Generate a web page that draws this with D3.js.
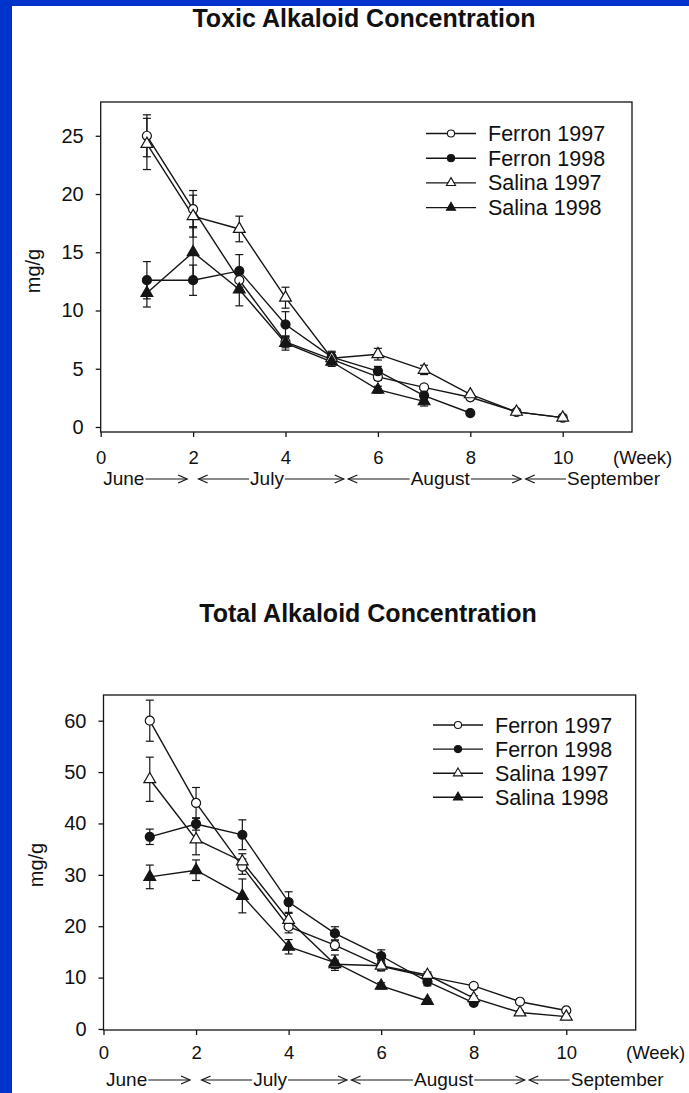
<!DOCTYPE html>
<html>
<head>
<meta charset="utf-8">
<script src="https://cdnjs.cloudflare.com/ajax/libs/d3/7.8.5/d3.min.js"></script>
<style>
html, body { margin: 0; padding: 0; background: #fff; }
svg { display: block; }
text { font-family: "Liberation Sans", Arial, sans-serif; fill: #111; }
</style>
</head>
<body>
<svg id="chart" width="689" height="1093"></svg>
<script>
// data (week number -> mg/g, with error bars)
const weeks = [1, 2, 3, 4, 5, 6, 7, 8, 9, 10];
const seriesNames = ["Ferron 1997", "Ferron 1998", "Salina 1997", "Salina 1998"];
const xTicks = [0, 2, 4, 6, 8, 10];

const toxicFerron97 = [25.0, 18.7, 12.6, 7.3, 5.8, 4.3, 3.4, 2.55, 1.3, 0.8];
const toxicFerron97Err = [1.8, 1.6, 0.9, 0.5, 0.4, 0.3, 0.2, 0.2, 0.1, 0.1];
const toxicFerron98 = [12.6, 12.6, 13.4, 8.8, 6.0, 4.8, 2.7, 1.2];
const toxicFerron98Err = [1.6, 1.3, 1.4, 1.1, 0.5, 0.4, 0.3, 0.1];
const toxicSalina97 = [24.3, 18.1, 17.0, 11.1, 5.9, 6.25, 4.9, 2.8, 1.3, 0.8];
const toxicSalina97Err = [2.2, 1.8, 1.1, 0.9, 0.5, 0.5, 0.4, 0.2, 0.1, 0.1];
const toxicSalina98 = [11.5, 15.0, 11.8, 7.2, 5.6, 3.2, 2.2];
const toxicSalina98Err = [1.2, 2.2, 1.4, 0.6, 0.4, 0.3, 0.4];
const toxicYTicks = [0, 5, 10, 15, 20, 25];

const totalFerron97 = [60.0, 44.0, 31.6, 19.9, 16.3, 12.2, 10.2, 8.4, 5.3, 3.6];
const totalFerron97Err = [4.0, 3.0, 1.5, 1.2, 1.0, 0.8, 0.6, 0.4, 0.3, 0.3];
const totalFerron98 = [37.4, 39.9, 37.8, 24.7, 18.6, 14.2, 9.2, 5.1];
const totalFerron98Err = [1.5, 1.2, 2.9, 2.0, 1.3, 1.2, 0.8, 0.5];
const totalSalina97 = [48.6, 36.9, 32.6, 21.2, 12.6, 12.3, 10.5, 6.0, 3.2, 2.4];
const totalSalina97Err = [4.3, 3.0, 1.5, 1.3, 0.8, 1.0, 0.6, 0.5, 0.3, 0.2];
const totalSalina98 = [29.6, 30.9, 25.9, 16.0, 12.9, 8.4, 5.45];
const totalSalina98Err = [2.3, 2.0, 3.3, 1.4, 1.5, 0.6, 0.4];
const totalYTicks = [0, 10, 20, 30, 40, 50, 60];

// month annotation under the week axis (in weeks)
const months = ["June", "July", "August", "September"];
const monthSpans = [[0, 1.87], [2.12, 5.26], [5.36, 9.1], [9.2, 11.5]];
const monthLabelAt = [0.5, 3.6, 7.35, 11.1];

const ink = "#151515";
const svg = d3.select("#chart");

// blue slide border (left and top)
svg.append("rect").attr("width", 689).attr("height", 1093).attr("fill", "#0033cc");
svg.append("rect").attr("x", 12).attr("y", 6).attr("width", 677).attr("height", 1087).attr("fill", "#fff");

const markerShape = [d3.symbolCircle, d3.symbolCircle, d3.symbolTriangle, d3.symbolTriangle];
const markerFill = ["#fff", ink, "#fff", ink];

function pack(vals, errs) {
  return vals.map((v, i) => ({ w: weeks[i], v: v, e: errs[i] }));
}

function drawPanel(p) {
  const g = svg.append("g");
  const x = d3.scaleLinear().domain([0, 11.5]).range([p.left, p.right]);
  const y = d3.scaleLinear().domain(p.yDomain).range([p.bottom, p.top]);

  g.append("text")
    .attr("x", p.titleX).attr("y", p.titleY)
    .attr("text-anchor", "middle")
    .style("font-size", "25px").style("font-weight", "bold")
    .text(p.title);

  // frame
  g.append("rect")
    .attr("x", p.left).attr("y", p.top)
    .attr("width", p.right - p.left).attr("height", p.bottom - p.top)
    .attr("fill", "none").attr("stroke", ink).attr("stroke-width", 1.3);

  const yAxis = g.append("g")
    .attr("transform", `translate(${p.left},0)`)
    .call(d3.axisLeft(y).tickValues(p.yTicks).tickSize(5).tickPadding(12));
  const xAxis = g.append("g")
    .attr("transform", `translate(0,${p.bottom})`)
    .call(d3.axisBottom(x).tickValues(xTicks).tickSize(5).tickPadding(p.xPad));
  [yAxis, xAxis].forEach(a => {
    a.select(".domain").remove();
    a.selectAll("line").attr("stroke", ink).attr("stroke-width", 1.3);
    a.selectAll("text").attr("fill", ink)
      .style("font-family", '"Liberation Sans", Arial, sans-serif');
  });
  yAxis.selectAll("text").style("font-size", "20px");
  xAxis.selectAll("text").style("font-size", "18.5px");

  g.append("text")
    .attr("x", p.weekX).attr("y", p.bottom + p.xPad + 5)
    .attr("dy", "0.71em")
    .style("font-size", "18.5px")
    .text("(Week)");

  g.append("text")
    .attr("transform", `translate(${p.ylabX},${p.ylabY}) rotate(-90)`)
    .attr("text-anchor", "middle")
    .style("font-size", "20px")
    .text("mg/g");

  // month row with arrows
  const mRow = g.append("g");
  const arrowY = p.monthY - 6;
  months.forEach((m, i) => {
    const t = mRow.append("text")
      .attr("x", x(monthLabelAt[i])).attr("y", p.monthY)
      .attr("text-anchor", "middle")
      .style("font-size", "19px")
      .text(m);
    const w = t.node().getComputedTextLength();
    const tl = x(monthLabelAt[i]) - w / 2 - 1, tr = x(monthLabelAt[i]) + w / 2 + 1;
    const s = x(monthSpans[i][0]), e = x(monthSpans[i][1]);
    if (i > 0) {
      mRow.append("line").attr("x1", s).attr("x2", tl).attr("y1", arrowY).attr("y2", arrowY)
        .attr("stroke", ink).attr("stroke-width", 1);
      mRow.append("path").attr("d", `M${s + 9},${arrowY - 4}L${s},${arrowY}L${s + 9},${arrowY + 4}`)
        .attr("fill", "none").attr("stroke", ink).attr("stroke-width", 1.2);
    }
    if (i < months.length - 1) {
      mRow.append("line").attr("x1", tr).attr("x2", e).attr("y1", arrowY).attr("y2", arrowY)
        .attr("stroke", ink).attr("stroke-width", 1);
      mRow.append("path").attr("d", `M${e - 9},${arrowY - 4}L${e},${arrowY}L${e - 9},${arrowY + 4}`)
        .attr("fill", "none").attr("stroke", ink).attr("stroke-width", 1.2);
    }
  });

  const line = d3.line().x(d => x(d.w)).y(d => y(d.v));

  // error bars
  p.series.forEach(s => {
    const eb = g.append("g").attr("stroke", ink).attr("stroke-width", 1.2);
    s.forEach(d => {
      if (d.e < 0.25) return;
      eb.append("line").attr("x1", x(d.w)).attr("x2", x(d.w))
        .attr("y1", y(d.v - d.e)).attr("y2", y(d.v + d.e));
      [d.v - d.e, d.v + d.e].forEach(c => {
        eb.append("line").attr("x1", x(d.w) - 4).attr("x2", x(d.w) + 4)
          .attr("y1", y(c)).attr("y2", y(c));
      });
    });
  });

  p.series.forEach(s => {
    g.append("path").datum(s).attr("d", line)
      .attr("fill", "none").attr("stroke", ink).attr("stroke-width", 1.4);
  });

  p.series.forEach((s, k) => {
    g.append("g").selectAll("path").data(s).join("path")
      .attr("transform", d => `translate(${x(d.w)},${y(d.v)})`)
      .attr("d", d3.symbol().type(markerShape[k]).size(k < 2 ? 64 : 60))
      .attr("fill", markerFill[k]).attr("stroke", ink).attr("stroke-width", 1.2);
  });

  // legend
  const lg = g.append("g");
  seriesNames.forEach((n, k) => {
    const ly = p.legY + k * p.legStep;
    lg.append("line").attr("x1", p.legX).attr("x2", p.legX + 50).attr("y1", ly).attr("y2", ly)
      .attr("stroke", ink).attr("stroke-width", 1.4);
    lg.append("path").attr("transform", `translate(${p.legX + 25},${ly})`)
      .attr("d", d3.symbol().type(markerShape[k]).size(k < 2 ? 40 : 36))
      .attr("fill", markerFill[k]).attr("stroke", ink).attr("stroke-width", 1.1);
    lg.append("text").attr("x", p.legX + 62).attr("y", ly + 7.5)
      .style("font-size", "21.5px").text(n);
  });
}

drawPanel({
  title: "Toxic Alkaloid Concentration", titleX: 364, titleY: 27,
  left: 100.7, right: 632, top: 102, bottom: 432,
  yDomain: [-0.43, 27.9], yTicks: toxicYTicks, xPad: 14,
  weekX: 613, monthY: 485, ylabX: 40, ylabY: 271,
  legX: 426, legY: 133.5, legStep: 24.7,
  series: [pack(toxicFerron97, toxicFerron97Err), pack(toxicFerron98, toxicFerron98Err),
           pack(toxicSalina97, toxicSalina97Err), pack(toxicSalina98, toxicSalina98Err)]
});

drawPanel({
  title: "Total Alkaloid Concentration", titleX: 368, titleY: 622,
  left: 103.5, right: 635.7, top: 695, bottom: 1030,
  yDomain: [-0.2, 65], yTicks: totalYTicks, xPad: 11,
  weekX: 626, monthY: 1086, ylabX: 43, ylabY: 865,
  legX: 433, legY: 725, legStep: 24.1,
  series: [pack(totalFerron97, totalFerron97Err), pack(totalFerron98, totalFerron98Err),
           pack(totalSalina97, totalSalina97Err), pack(totalSalina98, totalSalina98Err)]
});
</script>
</body>
</html>
